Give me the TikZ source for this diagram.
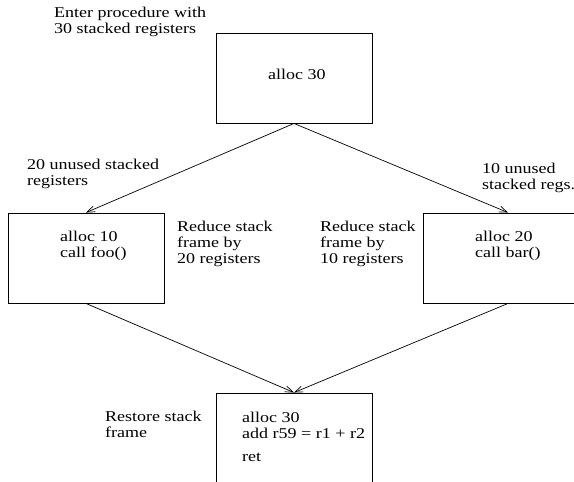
\documentclass[tikz,border=0pt]{standalone}
\usepackage{fontspec}
\setmainfont{Liberation Serif}
\usetikzlibrary{arrows.meta}

\begin{document}
\begin{tikzpicture}[x=1pt, y=-1pt,
  box/.style={draw, line width=0.9pt, minimum width=156pt, minimum height=90pt, inner sep=0pt},
  note/.style={align=left, anchor=base west, inner sep=0pt, xscale=1.2,
    font=\fontsize{15}{16}\selectfont},
  flow/.style={-{Straight Barb[length=8pt, width=6pt]}, line width=0.7pt}]

\useasboundingbox (0,0) rectangle (574,482);
\clip (0,0) rectangle (574,482);

% blocks
\node[box] (entry) at (294,78) {};
\node[box] (left) at (86,258) {};
\node[box, minimum width=170pt] (right) at (508,258) {};
\node[box, minimum height=100pt] (exit) at (294,443) {};

% code in the blocks (placed at the baseline of the last line)
\node[note] (entrycode) at (268,79.3) {alloc 30};
\node[note] (leftcode) at (60,257.7) {alloc 10\\call foo()};
\node[note] (rightcode) at (475,257.7) {alloc 20\\call bar()};
\node[note] (exitcode) at (242,461) {alloc 30\\add r59 = r1 + r2\\[7pt]ret};

% comments
\node[note] (entrynote) at (54,33.5) {Enter procedure with\\30 stacked registers};
\node[note] (leftunused) at (27,185.3) {20 unused stacked\\registers};
\node[note] (rightunused) at (482,189.3) {10 unused\\stacked regs.};
\node[note] (leftreduce) at (177,263.7) {Reduce stack\\frame by\\20 registers};
\node[note] (rightreduce) at (320,263.7) {Reduce stack\\frame by\\10 registers};
\node[note] (restore) at (105,437.7) {Restore stack\\frame};

\draw[flow] (entry.south) -- (left.north);
\draw[flow] (entry.south) -- (right.north);
\draw[flow] (left.south) -- (exit.north);
\draw[flow] (right.south) -- (exit.north);
\end{tikzpicture}
\end{document}
